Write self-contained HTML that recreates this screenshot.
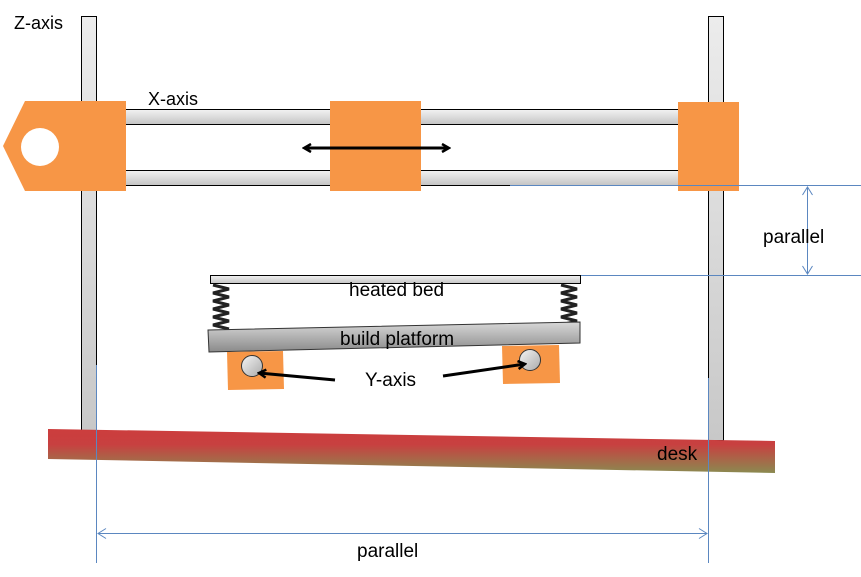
<!DOCTYPE html>
<html><head><meta charset="utf-8"><style>
html,body{margin:0;padding:0;background:#fff;}
svg{display:block;}
text{font-family:"Liberation Sans",sans-serif;fill:#000;}
</style></head><body>
<svg width="861" height="577" viewBox="0 0 861 577" xmlns="http://www.w3.org/2000/svg">
<defs>
<linearGradient id="rod" x1="0" y1="0" x2="0" y2="1">
<stop offset="0" stop-color="#f2f2f2"/><stop offset="1" stop-color="#c4c4c4"/></linearGradient>
<linearGradient id="vrod" x1="0" y1="0" x2="0" y2="1">
<stop offset="0" stop-color="#ececec"/><stop offset="1" stop-color="#c8c8c8"/></linearGradient>
<linearGradient id="plat" x1="0" y1="0" x2="0" y2="1">
<stop offset="0" stop-color="#d8d8d8"/><stop offset="1" stop-color="#8a8a8a"/></linearGradient>
<linearGradient id="desk" x1="0" y1="0" x2="0" y2="1">
<stop offset="0" stop-color="#cc3d3d"/><stop offset="0.35" stop-color="#c84040"/><stop offset="1" stop-color="#8a8a50"/></linearGradient>
<linearGradient id="ball" x1="0" y1="0" x2="1" y2="1">
<stop offset="0" stop-color="#f5f5f5"/><stop offset="1" stop-color="#aaa"/></linearGradient>
<marker id="ah" markerWidth="10" markerHeight="10" refX="8" refY="5" orient="auto-start-reverse" markerUnits="userSpaceOnUse">
<path d="M1,1 L8,5 L1,9" fill="none" stroke="#000" stroke-width="2.5"/></marker>
<marker id="bh" markerWidth="12" markerHeight="12" refX="10" refY="6" orient="auto-start-reverse" markerUnits="userSpaceOnUse">
<path d="M2,1 L10,6 L2,11" fill="none" stroke="#5b87c0" stroke-width="1"/></marker>
</defs>

<rect x="81.5" y="16.5" width="15" height="414" fill="url(#vrod)" stroke="#000"/>
<rect x="708.5" y="16.5" width="15" height="424" fill="url(#vrod)" stroke="#000"/>

<rect x="110" y="109.5" width="580" height="15" fill="url(#rod)" stroke="#000"/>
<rect x="110" y="170.5" width="580" height="15" fill="url(#rod)" stroke="#000"/>

<polygon points="25,101 126,101 126,191 25,191 3,146" fill="#f79646"/>
<circle cx="40" cy="147" r="19" fill="#fff"/>
<rect x="330" y="101" width="91" height="90" fill="#f79646"/>
<rect x="678" y="102" width="61" height="89" fill="#f79646"/>

<line x1="304" y1="148" x2="449" y2="148" stroke="#000" stroke-width="3" marker-start="url(#ah)" marker-end="url(#ah)"/>

<text x="14" y="29" font-size="18">Z-axis</text>
<text x="148" y="105" font-size="18">X-axis</text>

<line x1="510" y1="185.5" x2="861" y2="185.5" stroke="#5b87c0"/>
<line x1="515" y1="275.5" x2="861" y2="275.5" stroke="#5b87c0"/>
<line x1="807.5" y1="187" x2="807.5" y2="274" stroke="#5b87c0" marker-start="url(#bh)" marker-end="url(#bh)"/>
<text x="763" y="243" font-size="19">parallel</text>

<line x1="96.5" y1="365" x2="96.5" y2="563" stroke="#5b87c0"/>
<line x1="708.5" y1="378" x2="708.5" y2="563" stroke="#5b87c0"/>

<polygon points="48,429 775,441 775,473 48,459" fill="url(#desk)"/>
<line x1="96.5" y1="429" x2="96.5" y2="461" stroke="#5b87c0"/>
<line x1="708.5" y1="440" x2="708.5" y2="472" stroke="#5b87c0"/>
<text x="657" y="460" font-size="19">desk</text>

<line x1="98" y1="533.5" x2="707" y2="533.5" stroke="#5b87c0" marker-start="url(#bh)" marker-end="url(#bh)"/>
<text x="357" y="557" font-size="19">parallel</text>

<rect x="210.5" y="275.5" width="370" height="8" fill="url(#rod)" stroke="#000"/>
<g stroke="#222" stroke-width="3">
<polyline fill="none" points="213,285 229,289 213,293 229,297 213,301 229,305 213,309 229,313 213,317 229,321 213,325 229,329"/>
<polyline fill="none" points="561,285 577,289 561,293 577,297 561,301 577,305 561,309 577,313 561,317 577,321 561,325 577,328"/>
</g>
<text x="349" y="296" font-size="19">heated bed</text>

<polygon points="208,330 580,322 580,343 209,352" fill="url(#plat)" stroke="#333"/>
<text x="340" y="345" font-size="19">build platform</text>

<polygon points="227,352 283,351 284,389 228,390" fill="#f79646"/>
<polygon points="502,346 559,345 560,383 503,384" fill="#f79646"/>
<circle cx="252" cy="366" r="10.5" fill="url(#ball)" stroke="#333"/>
<circle cx="530" cy="360" r="10.5" fill="url(#ball)" stroke="#333"/>
<line x1="335" y1="380" x2="259" y2="373" stroke="#000" stroke-width="3" marker-end="url(#ah)"/>
<line x1="443" y1="376" x2="525" y2="364" stroke="#000" stroke-width="3" marker-end="url(#ah)"/>
<text x="365" y="386" font-size="19">Y-axis</text>
</svg>
</body></html>
